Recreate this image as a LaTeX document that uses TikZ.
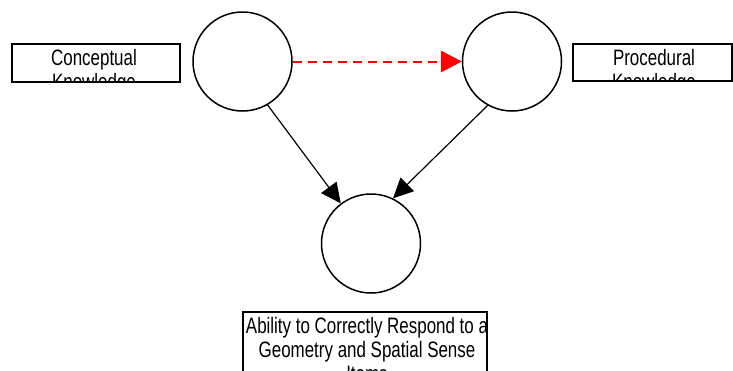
\documentclass[tikz,border=0pt]{standalone}
\usepackage{fontspec}
\usetikzlibrary{arrows.meta}
\newfontfamily\narrowfont{Liberation Sans}[FakeStretch=0.76]

\tikzset{
    bubble/.style={circle, draw, line width=1.5pt, minimum size=99pt, inner sep=0pt},
    labelbox/.style={draw, line width=1.4pt, inner sep=0pt},
    boxtext/.style={anchor=base, align=center, inner sep=0pt,
        font=\narrowfont\fontsize{22.3}{24.4}\selectfont},
    link/.style={line width=1.2pt, -{Triangle[length=20pt,width=19pt]}},
    redlink/.style={draw=red, fill=red, line width=2pt, dash pattern=on 9pt off 6pt,
        -{Triangle[length=21pt,width=22pt,line width=0pt]}}
}

\begin{document}
\begin{tikzpicture}[x=1pt, y=-1pt]
                \useasboundingbox (0,0) rectangle (733,370);

                %%circles
                \node[bubble] (ck) at (242.5, 61.5) {};
                \node[bubble] (pk) at (512, 61.5) {};
                \node[bubble] (ab) at (371, 243.5) {};

                %%boxes
                \node[labelbox, minimum width=168pt, minimum height=38pt] (ckbox) at (96, 63) {};
                \node[labelbox, minimum width=159pt, minimum height=37pt] (pkbox) at (652.5, 62.5) {};
                \node[labelbox, minimum width=244pt, minimum height=70pt] (abbox) at (365, 347) {};

                %%texts, cut off by their boxes (base = last line)
                \begin{scope}
                    \clip (ckbox.south west) rectangle (ckbox.north east);
                    \node[boxtext] (cktext) at (94, 89.4) {Conceptual\\Knowledge};
                \end{scope}
                \begin{scope}
                    \clip (pkbox.south west) rectangle (pkbox.north east);
                    \node[boxtext] (pktext) at (654, 89.4) {Procedural\\Knowledge};
                \end{scope}
                \begin{scope}
                    \clip (abbox.south west) rectangle (abbox.north east);
                    \node[boxtext] (abtext) at (367, 381.8) {Ability to Correctly Respond to a\\Geometry and Spatial Sense\\Items};
                \end{scope}

                %%arrows
                \draw[redlink]
                    (ck.east) -- (pk.west);
                \draw[link]
                    (ck.300) -- (ab.127);
                \draw[link]
                    (pk.241) -- (ab.64);
\end{tikzpicture}
\end{document}
